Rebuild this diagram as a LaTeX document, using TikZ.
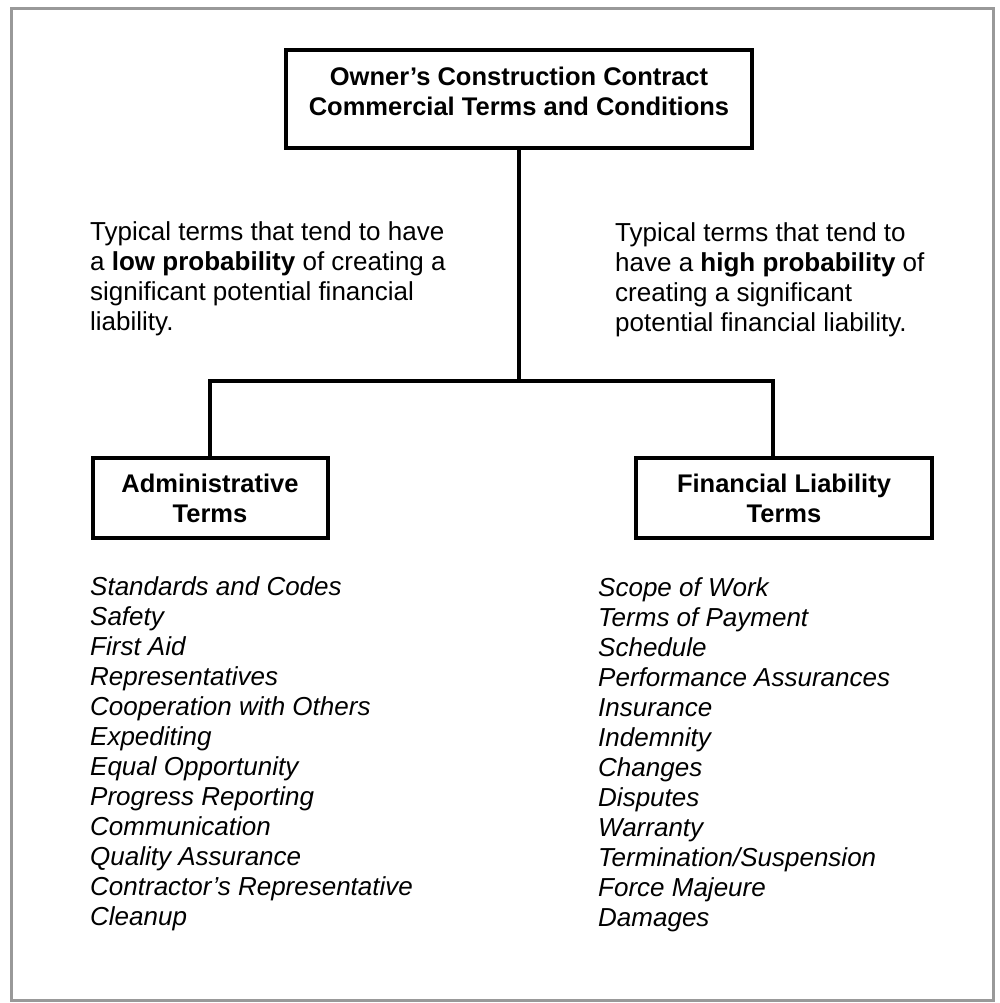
\documentclass[tikz,border=0pt]{standalone}
\usepackage{fontspec}
\setmainfont{Liberation Sans}
\usetikzlibrary{positioning}

\begin{document}
\begin{tikzpicture}[x=1pt,y=-1pt]
	\tikzstyle{every node}+=[inner sep=0pt]
	\tikzstyle{termbox}=[draw=black, line width=4pt, align=center, font=\fontsize{25.5}{30}\selectfont\bfseries]
	\tikzstyle{note}=[anchor=north west, align=left, font=\fontsize{26}{30}\selectfont]
	\tikzstyle{termlist}=[anchor=north west, align=left, font=\fontsize{26}{30}\selectfont\itshape]
	\tikzstyle{link}=[black, line width=4pt]
	\useasboundingbox (0,0) rectangle (999,1003);
	\draw [black!40, line width=3pt] (11,9) rectangle (993,1000);
	% boxes
	\node [termbox, minimum width=466pt, minimum height=98pt, text depth=15pt] (owner) at (519,99) {Owner’s Construction Contract\\Commercial Terms and Conditions};
	\node [termbox, minimum width=235pt, minimum height=80pt] (admin) at (210,498) {Administrative\\Terms};
	\node [termbox, minimum width=296pt, minimum height=80pt] (fin) at (784,498) {Financial Liability\\Terms};
	% connectors
	\coordinate (jn) at (519,381);
	\coordinate (rt) at (773,381);
	\draw [link] (owner.south) -- (jn);
	\draw [link] (jn) -| (admin.north);
	\draw [link] (jn) -- (rt) -- (rt |- fin.north);
	% notes
	\node [note] (lownote) at (90,221) {Typical terms that tend to have\\a \textbf{low probability} of creating a\\significant potential financial\\liability.};
	\node [note] (highnote) at (615,222) {Typical terms that tend to\\have a \textbf{high probability} of\\creating a significant\\potential financial liability.};
	% term lists
	\node [termlist] (adminlist) at (90,576) {Standards and Codes\\Safety\\First Aid\\Representatives\\Cooperation with Others\\Expediting\\Equal Opportunity\\Progress Reporting\\Communication\\Quality Assurance\\Contractor’s Representative\\Cleanup};
	\node [termlist] (finlist) at (598,577) {Scope of Work\\Terms of Payment\\Schedule\\Performance Assurances\\Insurance\\Indemnity\\Changes\\Disputes\\Warranty\\Termination/Suspension\\Force Majeure\\Damages};
\end{tikzpicture}
\end{document}
